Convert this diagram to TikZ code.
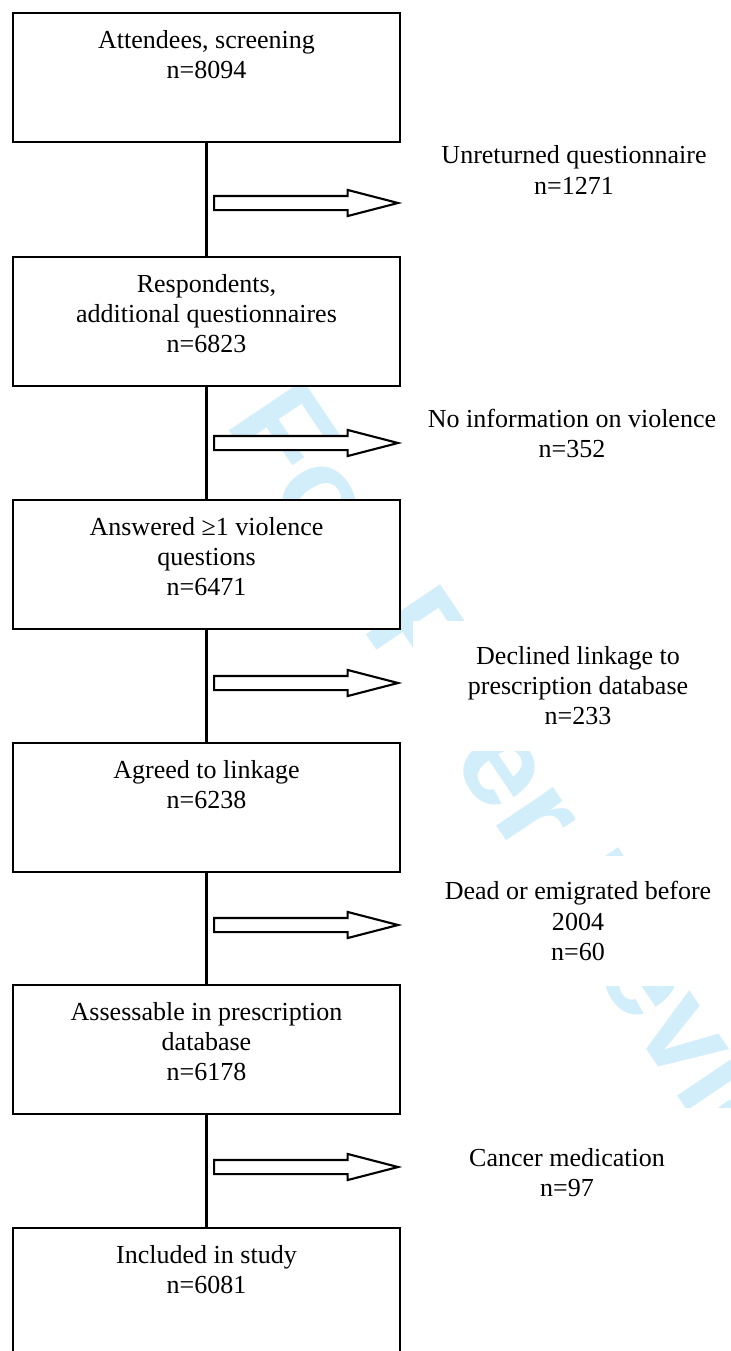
\documentclass[tikz,border=0pt]{standalone}
\usepackage{fontspec}
\setmainfont{Liberation Serif}
\newfontfamily\wmfont{Liberation Sans}
\usetikzlibrary{shapes.arrows}
\definecolor{wmblue}{RGB}{211,238,251}
\begin{document}
\begin{tikzpicture}[
  flowbox/.style={draw, line width=0.6pt, fill=white, minimum width=3.87cm, minimum height=1.29cm, inner sep=0},
  boxtext/.style={anchor=north, align=center, inner sep=0, font=\fontsize{7.4}{8.55}\selectfont},
  sidetext/.style={fill=white, align=center, inner sep=0, minimum width=3.3cm, minimum height=1.3cm, font=\fontsize{7.4}{8.55}\selectfont},
  fatarrow/.style={single arrow, anchor=tail, draw, line width=0.6pt, fill=white, minimum height=1.84cm, inner sep=0.06cm, single arrow head extend=0.06cm, single arrow tip angle=29},
  stamp/.style={anchor=base west, inner sep=0, text=wmblue, font=\wmfont\bfseries\fontsize{37}{44}\selectfont}
]
\useasboundingbox (0,0) rectangle (7.30,-13.51);
\node[stamp, rotate=-56] (stamp) at (2.24,-4.23) {For Peer Review};
\node[flowbox] (attend) at (2.065,-0.775) {};
\node[boxtext] (attendtxt) at ([yshift=-0.18cm]attend.north) {Attendees, screening\\n=8094};
\node[flowbox] (resp) at (2.065,-3.215) {};
\node[boxtext] (resptxt) at ([yshift=-0.18cm]resp.north) {Respondents,\\additional questionnaires\\n=6823};
\node[flowbox] (answ) at (2.065,-5.645) {};
\node[boxtext] (answtxt) at ([yshift=-0.18cm]answ.north) {Answered ≥1 violence\\questions\\n=6471};
\node[flowbox] (agreed) at (2.065,-8.075) {};
\node[boxtext] (agreedtxt) at ([yshift=-0.18cm]agreed.north) {Agreed to linkage\\n=6238};
\node[flowbox] (assess) at (2.065,-10.495) {};
\node[boxtext] (assesstxt) at ([yshift=-0.18cm]assess.north) {Assessable in prescription\\database\\n=6178};
\node[flowbox] (incl) at (2.065,-12.925) {};
\node[boxtext] (incltxt) at ([yshift=-0.18cm]incl.north) {Included in study\\n=6081};
\draw[line width=0.6pt] (attend) -- (resp);
\draw[line width=0.6pt] (resp) -- (answ);
\draw[line width=0.6pt] (answ) -- (agreed);
\draw[line width=0.6pt] (agreed) -- (assess);
\draw[line width=0.6pt] (assess) -- (incl);
\node[fatarrow] (arr1) at (2.13,-2.03) {};
\node[fatarrow] (arr2) at (2.13,-4.43) {};
\node[fatarrow] (arr3) at (2.13,-6.83) {};
\node[fatarrow] (arr4) at (2.13,-9.25) {};
\node[fatarrow] (arr5) at (2.13,-11.67) {};
\node[sidetext] (unret) at (5.74,-1.70) {Unreturned questionnaire\\n=1271};
\node[sidetext] (noinfo) at (5.72,-4.33) {No information on violence\\n=352};
\node[sidetext] (declined) at (5.78,-6.86) {Declined linkage to\\prescription database\\n=233};
\node[sidetext] (dead) at (5.78,-9.21) {Dead or emigrated before\\2004\\n=60};
\node[sidetext] (cancer) at (5.67,-11.73) {Cancer medication\\n=97};
\end{tikzpicture}
\end{document}
